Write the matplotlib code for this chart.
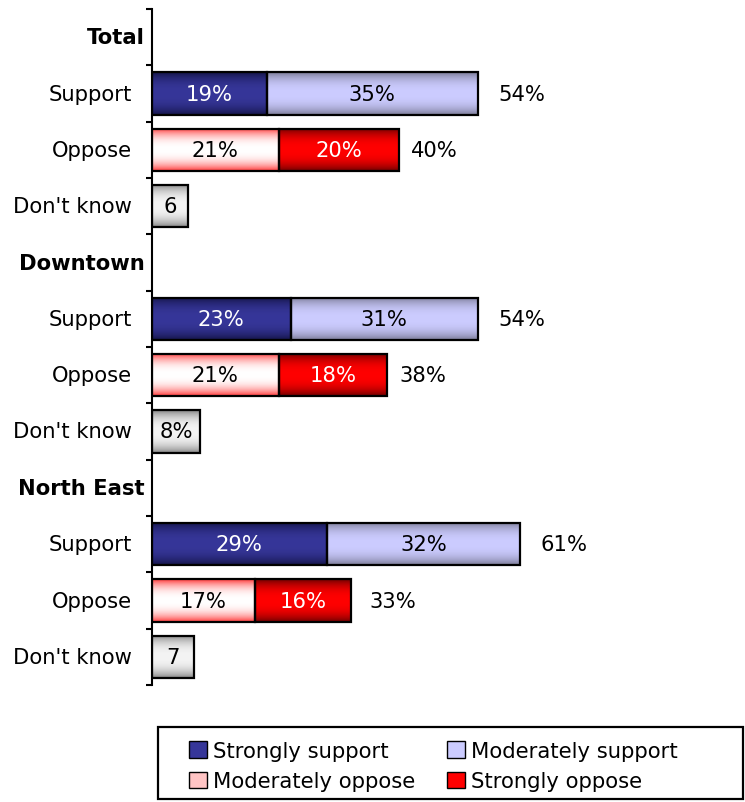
import numpy as np
import matplotlib.pyplot as plt
from matplotlib.colors import to_rgb
from matplotlib.patches import Patch, Rectangle

# data
groups = ["Total", "Downtown", "North East"]
row_names = ["Support", "Oppose", "Don't know"]
strongly_support = [19, 23, 29]
moderately_support = [35, 31, 32]
moderately_oppose = [21, 21, 17]
strongly_oppose = [20, 18, 16]
dont_know = [6, 8, 7]
dont_know_labels = ["6", "8%", "7"]
support_total = [54, 54, 61]
oppose_total = [40, 38, 33]
legend_names = ["Strongly support", "Moderately support",
                "Moderately oppose", "Strongly oppose"]

# (center colour, edge colour) for the bar gradients
SS = ("#363699", "#141448")
MS = ("#CCCCFF", "#7c7c98")
MO = ("#FFFFFF", "#FF3a3a")
SO = ("#FF0000", "#700000")
DK = ("#F4F4F4", "#868686")

FS = 15.2


def fill_gradient(ax, bar, colors):
    x, y = bar.get_x(), bar.get_y()
    w, h = bar.get_width(), bar.get_height()
    t = np.abs(np.linspace(-1, 1, 80)) ** 2.5
    c0, c1 = np.array(to_rgb(colors[0])), np.array(to_rgb(colors[1]))
    img = (c0[None, :] * (1 - t[:, None]) + c1[None, :] * t[:, None])[:, None, :]
    im = ax.imshow(img, extent=[x, x + w, y + h, y], aspect="auto",
                   zorder=2, interpolation="bilinear")
    im.set_clip_path(bar)
    bar.set_facecolor("none")
    bar.set_zorder(3)


fig = plt.figure(figsize=(7.45, 8.03), dpi=100)
ax = fig.add_axes([152 / 745, 1 - 686 / 803, 1 - 152 / 745, 676 / 803])

n = len(groups)
sup_pos = np.arange(n) * 4 + 1
opp_pos = np.arange(n) * 4 + 2
dk_pos = np.arange(n) * 4 + 3
bh = 0.75
kw = dict(height=bh, edgecolor="black", linewidth=1.6)

segments = []
b = ax.barh(sup_pos, strongly_support, **kw)
segments.append((b, SS, strongly_support, [0] * n, sup_pos, "white"))
b = ax.barh(sup_pos, moderately_support, left=strongly_support, **kw)
segments.append((b, MS, moderately_support, strongly_support, sup_pos, "black"))
b = ax.barh(opp_pos, moderately_oppose, **kw)
segments.append((b, MO, moderately_oppose, [0] * n, opp_pos, "black"))
b = ax.barh(opp_pos, strongly_oppose, left=moderately_oppose, **kw)
segments.append((b, SO, strongly_oppose, moderately_oppose, opp_pos, "white"))
dk_bars = ax.barh(dk_pos, dont_know, **kw)

for bars, colors, vals, lefts, ys, tc in segments:
    for bar, v, l, y in zip(bars, vals, lefts, ys):
        fill_gradient(ax, bar, colors)
        ax.text(l + v / 2, y, f"{v}%", ha="center", va="center",
                color=tc, fontsize=FS, zorder=4)

for bar, v, lab, y in zip(dk_bars, dont_know, dont_know_labels, dk_pos):
    fill_gradient(ax, bar, DK)
    ax.text(v / 2, y, lab, ha="center", va="center", fontsize=FS, zorder=4)

# totals to the right of the bars
for tot, y in zip(support_total, sup_pos):
    ax.annotate(f"{tot}%", (tot, y), xytext=(15, 0), textcoords="offset points",
                ha="left", va="center", fontsize=FS)
for tot, y in zip(oppose_total, opp_pos):
    ax.annotate(f"{tot}%", (tot, y), xytext=(13, 0), textcoords="offset points",
                ha="left", va="center", fontsize=FS)

ax.set_xlim(0, 593 / 6.03)
ax.set_ylim(4 * n - 0.5, -0.5)

# category labels
ytr = ax.get_yaxis_transform()
for i, g in enumerate(groups):
    ax.annotate(g, (0, 4 * i), xycoords=ytr, xytext=(-5, 0),
                textcoords="offset points", ha="right", va="center",
                fontsize=FS, fontweight="bold")
    for j, r in enumerate(row_names):
        ax.annotate(r, (0, 4 * i + 1 + j), xycoords=ytr, xytext=(-14.5, 0),
                    textcoords="offset points", ha="right", va="center",
                    fontsize=FS)

ax.set_yticks(np.arange(4 * n + 1) - 0.5)
ax.set_yticklabels([])
ax.tick_params(axis="y", direction="out", length=4, width=1.5)
ax.set_xticks([])
for s in ["top", "right", "bottom"]:
    ax.spines[s].set_visible(False)
ax.spines["left"].set_linewidth(1.5)

# legend with its own frame
fig.patches.append(Rectangle((158 / 745, 3 / 803), 585 / 745, 72 / 803,
                             transform=fig.transFigure, fill=False,
                             edgecolor="black", linewidth=1.6))
handles = [Patch(facecolor=SS[0], edgecolor="black"),
           Patch(facecolor="#FFC4C4", edgecolor="black"),
           Patch(facecolor=MS[0], edgecolor="black"),
           Patch(facecolor=SO[0], edgecolor="black")]
labels = [legend_names[0], legend_names[2], legend_names[1], legend_names[3]]
fig.legend(handles, labels, ncol=2, loc="center left",
           bbox_to_anchor=(170 / 745, 36 / 803), frameon=False, fontsize=FS,
           handlelength=0.85, handleheight=0.85, handletextpad=0.3,
           columnspacing=1.5, labelspacing=0.5)

fig.savefig("out.png", dpi=100)
